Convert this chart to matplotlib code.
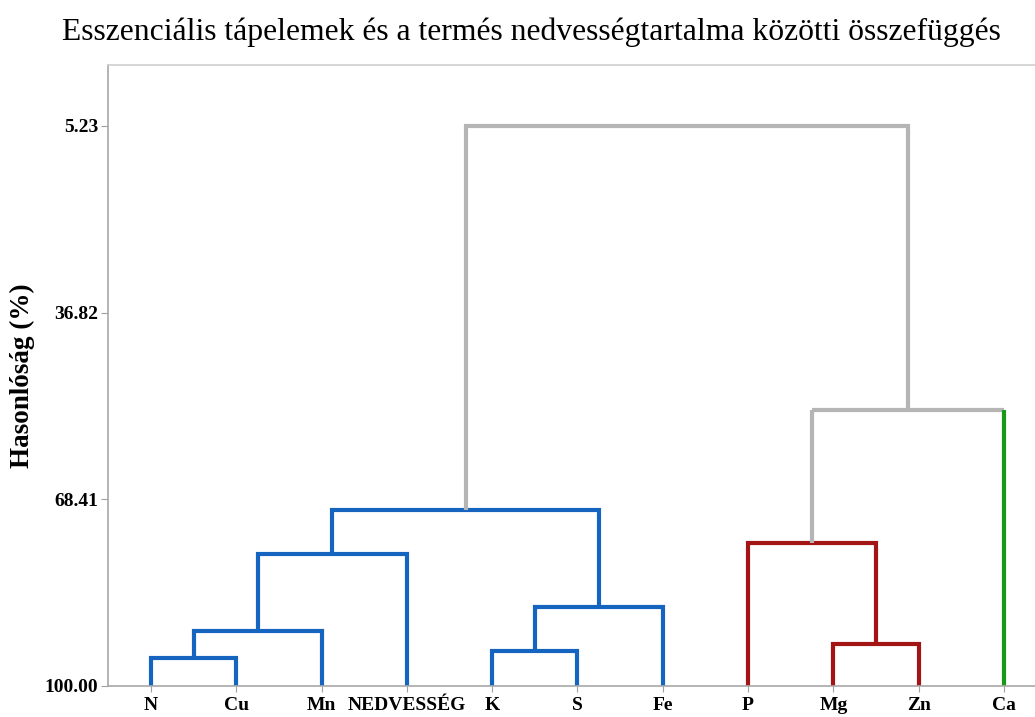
import matplotlib
matplotlib.use('agg')
import matplotlib.pyplot as plt

# leaves in dendrogram order, and the cluster each belongs to
leaves = ['N', 'Cu', 'Mn', 'NEDVESSÉG', 'K', 'S', 'Fe', 'P', 'Mg', 'Zn', 'Ca']
leaf_group = [0, 0, 0, 0, 0, 0, 0, 1, 1, 1, 2]
group_colors = ['#1565c0', '#a31414', '#179a17']
link_gray = '#b5b5b5'

# merges (node ids: leaves 0..10, new nodes 11, 12, ...) and similarity level (%)
merge_a = [0, 4, 8, 11, 12, 14, 7, 16, 17, 18]
merge_b = [1, 5, 9, 2, 6, 3, 13, 15, 10, 19]
merge_sim = [95.26, 94.08, 92.89, 90.69, 86.63, 77.66, 75.80, 70.22, 53.29, 5.23]

yticks = [5.23, 36.82, 68.41, 100.00]

plt.rcParams['font.family'] = ['Liberation Serif', 'DejaVu Serif']

fig = plt.figure(figsize=(10.35, 7.17), dpi=100)
ax = fig.add_axes([108 / 1035, 31 / 717, 927 / 1035, 621 / 717])

n = len(leaves)
pos = {i: i + 1 for i in range(n)}
height = {i: 100.0 for i in range(n)}
grp = {i: leaf_group[i] for i in range(n)}

lw = 3
for k, (a, b, s) in enumerate(zip(merge_a, merge_b, merge_sim)):
    node = n + k
    g = grp[a] if grp[a] == grp[b] else None
    col = group_colors[g] if g is not None else link_gray
    vcols = [group_colors[grp[c]] if c < n else col for c in (a, b)]
    if vcols[0] == col and vcols[1] == col:
        ax.plot([pos[a], pos[a], pos[b], pos[b]], [height[a], s, s, height[b]],
                color=col, lw=lw, solid_joinstyle='miter', solid_capstyle='butt')
    else:
        ax.plot([pos[a], pos[b]], [s, s], color=col, lw=lw, solid_capstyle='butt')
        for c, vc in zip((a, b), vcols):
            ax.plot([pos[c], pos[c]], [height[c], s], color=vc, lw=lw,
                    solid_capstyle='butt')
    pos[node] = (pos[a] + pos[b]) / 2
    height[node] = s
    grp[node] = g

ax.set_xlim(0.496, 11.364)
ax.set_ylim(100, -5.09)

ax.set_xticks(range(1, n + 1))
ax.set_xticklabels(leaves, fontsize=14, fontweight='bold')
ax.set_yticks(yticks)
ax.set_yticklabels(['%.2f' % v for v in yticks], fontsize=14, fontweight='bold')
ax.tick_params(axis='x', length=4, color='#a0a0a0', pad=4)
ax.tick_params(axis='y', length=5, color='#a0a0a0', pad=2)

ax.spines['right'].set_visible(False)
ax.spines['top'].set_color('#d0d0d0')
ax.spines['left'].set_color('#a8a8a8')
ax.spines['bottom'].set_color('#a8a8a8')
for sp in ax.spines.values():
    sp.set_linewidth(1.2)

fig.text(0.513, 0.955, 'Esszenciális tápelemek és a termés nedvességtartalma közötti összefüggés',
         ha='center', va='center', fontsize=22.8)
fig.text(22 / 1035, 0.476, 'Hasonlóság (%)', rotation=90, ha='center', va='center',
         fontsize=19.5, fontweight='bold')

fig.savefig('out.png', dpi=100)
